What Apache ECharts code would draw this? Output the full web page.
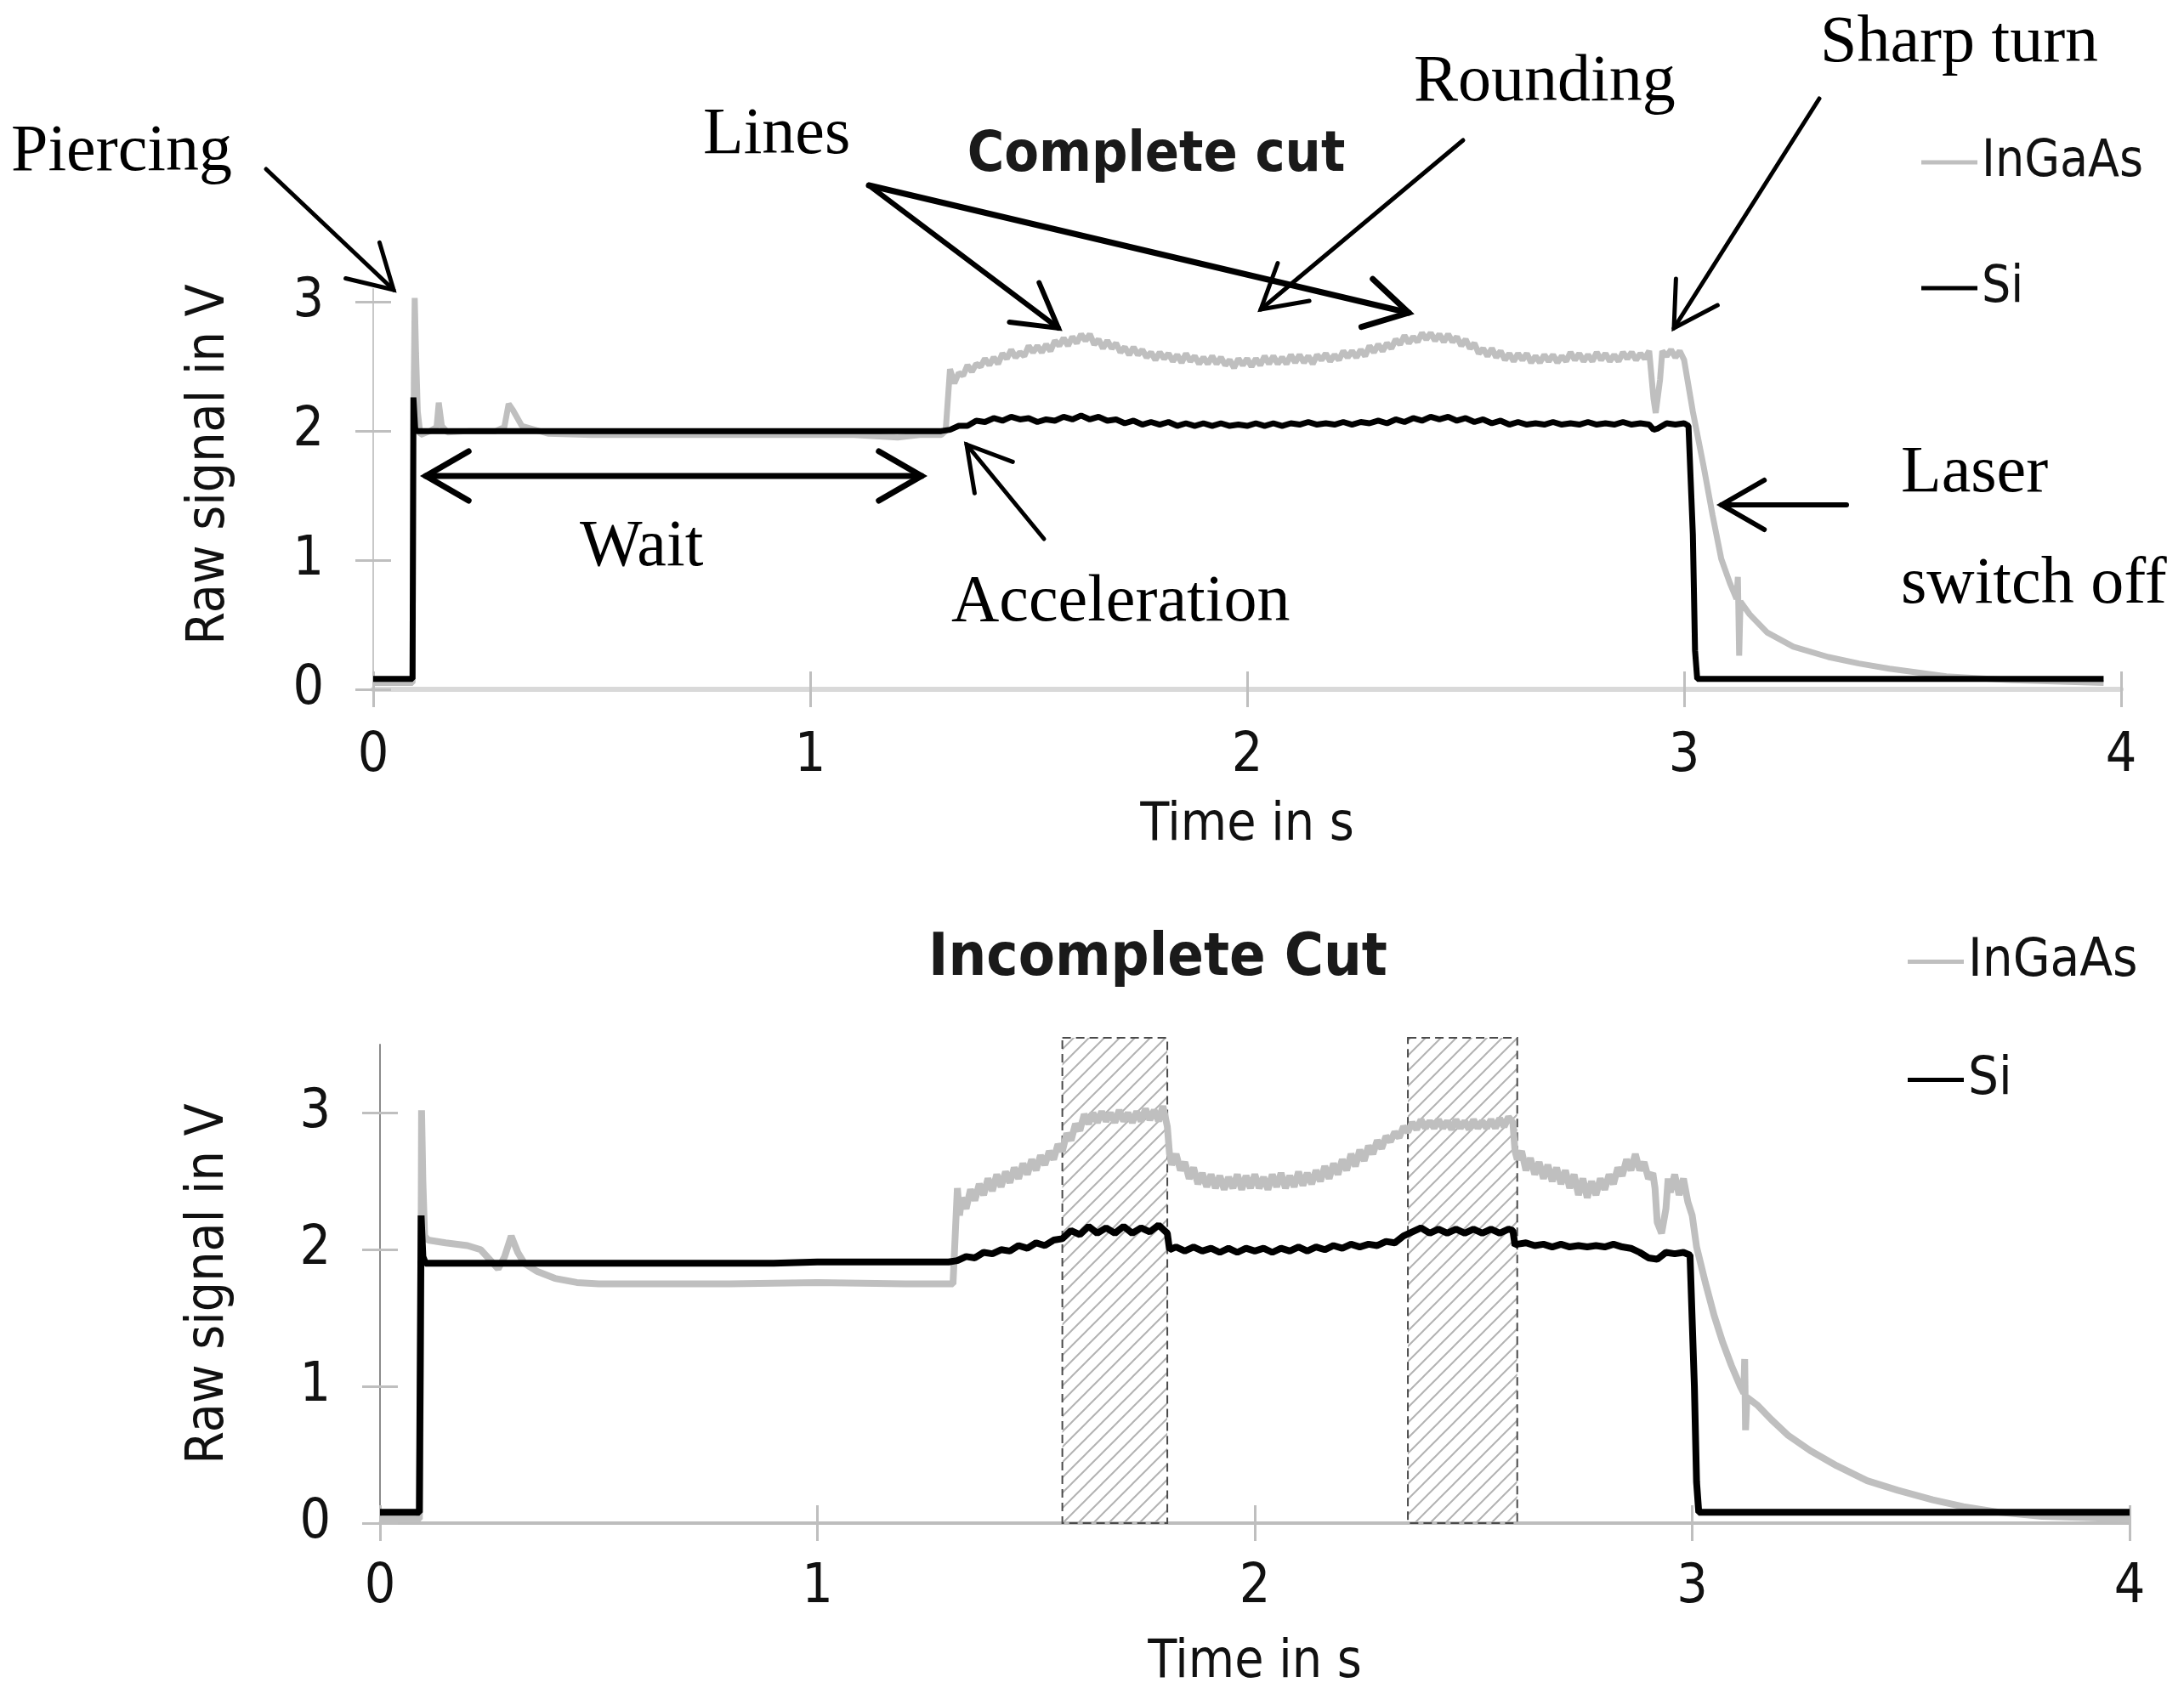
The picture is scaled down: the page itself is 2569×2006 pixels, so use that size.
<!DOCTYPE html>
<html>
<head>
<meta charset="utf-8">
<script src="https://cdn.jsdelivr.net/npm/echarts@6/dist/echarts.min.js"></script>
<style>html,body{margin:0;padding:0;background:#fff}#c{width:2569px;height:2006px}</style>
</head>
<body>
<div id="c"></div>
<script>
// ---------------- DATA ----------------
const xTicks = [0, 1, 2, 3, 4];
const yTicks = [0, 1, 2, 3];
const seriesNames = ['InGaAs', 'Si'];
const titles = ['Complete cut', 'Incomplete Cut'];

// Complete cut – InGaAs (time s, signal V)
const topInGaAs = [
[0,0.05],[0.09,0.05],[0.093,2.4],[0.095,3.03],[0.098,2.6],[0.102,2.15],[0.108,1.97],[0.13,2.0],[0.145,2.03],[0.15,2.22],[0.157,2.04],[0.17,1.99],[0.22,2.0],[0.28,2.0],[0.3,2.03],[0.31,2.21],[0.32,2.16],[0.34,2.04],[0.37,2.01],[0.40,1.98],[0.5,1.97],[0.7,1.97],[0.9,1.97],[1.1,1.97],[1.2,1.95],[1.25,1.97],[1.30,1.97],[1.31,2.00],
[1.32,2.48],[1.33,2.37],[1.34,2.45],[1.35,2.43],[1.36,2.51],[1.37,2.46],[1.38,2.52],[1.39,2.50],
[1.40,2.56],[1.41,2.51],[1.42,2.57],[1.43,2.52],[1.44,2.60],[1.45,2.56],[1.46,2.63],[1.47,2.57],[1.48,2.61],[1.49,2.58],
[1.50,2.66],[1.51,2.61],[1.52,2.66],[1.53,2.61],[1.54,2.67],[1.55,2.62],[1.56,2.70],[1.57,2.66],[1.58,2.72],[1.59,2.66],
[1.60,2.73],[1.61,2.68],[1.62,2.75],[1.63,2.70],[1.64,2.75],[1.65,2.67],[1.66,2.71],[1.67,2.64],[1.68,2.70],[1.69,2.64],
[1.70,2.68],[1.71,2.61],[1.72,2.65],[1.73,2.59],[1.74,2.65],[1.75,2.59],[1.76,2.63],[1.77,2.57],[1.78,2.61],[1.79,2.55],
[1.80,2.61],[1.81,2.56],[1.82,2.60],[1.83,2.54],[1.84,2.59],[1.85,2.53],[1.86,2.60],[1.87,2.54],[1.88,2.58],[1.89,2.52],
[1.90,2.57],[1.91,2.52],[1.92,2.58],[1.93,2.52],[1.94,2.57],[1.95,2.51],[1.96,2.55],[1.97,2.49],[1.98,2.56],[1.99,2.51],
[2.00,2.56],[2.01,2.50],[2.02,2.56],[2.03,2.51],[2.04,2.58],[2.05,2.52],[2.06,2.58],[2.07,2.52],[2.08,2.57],[2.09,2.52],
[2.10,2.59],[2.11,2.53],[2.12,2.59],[2.13,2.53],[2.14,2.58],[2.15,2.52],[2.16,2.59],[2.17,2.55],[2.18,2.60],[2.19,2.54],
[2.20,2.59],[2.21,2.55],[2.22,2.62],[2.23,2.57],[2.24,2.62],[2.25,2.57],[2.26,2.63],[2.27,2.58],[2.28,2.66],[2.29,2.61],
[2.30,2.67],[2.31,2.62],[2.32,2.68],[2.33,2.64],[2.34,2.71],[2.35,2.67],[2.36,2.74],[2.37,2.68],[2.38,2.73],[2.39,2.69],
[2.40,2.76],[2.41,2.71],[2.42,2.76],[2.43,2.70],[2.44,2.75],[2.45,2.69],[2.46,2.75],[2.47,2.69],[2.48,2.73],[2.49,2.66],
[2.50,2.71],[2.51,2.64],[2.52,2.68],[2.53,2.60],[2.54,2.64],[2.55,2.58],[2.56,2.64],[2.57,2.57],[2.58,2.62],[2.59,2.55],
[2.60,2.60],[2.61,2.54],[2.62,2.60],[2.63,2.55],[2.64,2.60],[2.65,2.53],[2.66,2.58],[2.67,2.53],[2.68,2.59],[2.69,2.54],
[2.70,2.59],[2.71,2.53],[2.72,2.58],[2.73,2.54],[2.74,2.61],[2.75,2.55],[2.76,2.60],[2.77,2.54],[2.78,2.59],[2.79,2.54],
[2.80,2.61],[2.81,2.55],[2.82,2.60],[2.83,2.54],[2.84,2.59],[2.85,2.54],[2.86,2.61],[2.87,2.56],[2.88,2.61],[2.89,2.55],
[2.90,2.60],[2.91,2.56],[2.92,2.62],[2.93,2.25],[2.935,2.14],[2.945,2.40],[2.95,2.62],[2.96,2.58],[2.97,2.63],[2.98,2.57],[2.99,2.62],[3.00,2.55],
[3.02,2.15],[3.045,1.72],[3.065,1.35],[3.085,1.01],[3.105,0.82],[3.12,0.70],[3.123,0.87],[3.126,0.26],[3.129,0.68],[3.15,0.58],[3.19,0.44],[3.25,0.33],[3.33,0.25],[3.40,0.20],[3.47,0.16],[3.60,0.10],[3.75,0.07],[3.96,0.05]
];

// Complete cut – Si
const topSi = [
[0,0.08],[0.09,0.08],[0.092,2.26],[0.096,2.02],[0.10,2.0],[0.5,2.0],[1.0,2.0],[1.30,2.0],
[1.32,2.01],[1.34,2.04],[1.36,2.04],[1.38,2.08],[1.40,2.07],[1.42,2.10],[1.44,2.08],[1.46,2.11],[1.48,2.09],
[1.50,2.10],[1.52,2.07],[1.54,2.09],[1.56,2.08],[1.58,2.11],[1.60,2.09],[1.62,2.12],[1.64,2.09],[1.66,2.11],[1.68,2.08],
[1.70,2.09],[1.72,2.06],[1.74,2.08],[1.76,2.05],[1.78,2.07],[1.80,2.05],[1.82,2.07],[1.84,2.04],[1.86,2.06],[1.88,2.04],
[1.90,2.06],[1.92,2.04],[1.94,2.06],[1.96,2.04],[1.98,2.05],[2.00,2.04],[2.02,2.06],[2.04,2.04],[2.06,2.06],[2.08,2.04],
[2.10,2.06],[2.12,2.05],[2.14,2.07],[2.16,2.05],[2.18,2.06],[2.20,2.05],[2.22,2.07],[2.24,2.05],[2.26,2.07],[2.28,2.06],
[2.30,2.08],[2.32,2.06],[2.34,2.09],[2.36,2.07],[2.38,2.10],[2.40,2.08],[2.42,2.11],[2.44,2.09],[2.46,2.11],[2.48,2.08],
[2.50,2.10],[2.52,2.07],[2.54,2.09],[2.56,2.06],[2.58,2.08],[2.60,2.05],[2.62,2.07],[2.64,2.05],[2.66,2.06],[2.68,2.05],
[2.70,2.07],[2.72,2.05],[2.74,2.06],[2.76,2.05],[2.78,2.07],[2.80,2.05],[2.82,2.06],[2.84,2.05],[2.86,2.07],[2.88,2.05],
[2.90,2.06],[2.92,2.05],[2.93,2.01],[2.94,2.02],[2.96,2.06],[2.98,2.05],[3.00,2.06],
[3.01,2.04],[3.02,1.2],[3.025,0.3],[3.03,0.08],[3.96,0.08]
];

// Incomplete cut – InGaAs
const botInGaAs = [
[0,0.03],[0.09,0.03],[0.093,1.2],[0.095,3.02],[0.098,2.5],[0.102,2.1],[0.11,2.07],[0.15,2.05],[0.2,2.03],[0.23,2.0],[0.25,1.93],[0.27,1.86],[0.285,1.95],[0.30,2.1],[0.315,1.98],[0.33,1.9],[0.36,1.84],[0.40,1.79],[0.45,1.76],[0.5,1.75],[0.8,1.75],[1.0,1.76],[1.2,1.75],[1.31,1.75],
[1.315,2.1],[1.32,2.45],[1.325,2.25],[1.33,2.38],[1.34,2.30],[1.35,2.44],[1.36,2.36],[1.37,2.48],[1.38,2.40],[1.39,2.52],[1.40,2.43],
[1.41,2.55],[1.42,2.46],[1.43,2.57],[1.44,2.49],[1.45,2.60],[1.46,2.52],[1.47,2.63],[1.48,2.55],[1.49,2.66],[1.50,2.58],
[1.51,2.69],[1.52,2.62],[1.53,2.72],[1.54,2.66],[1.55,2.77],[1.56,2.72],[1.57,2.85],[1.58,2.80],[1.59,2.92],[1.60,2.87],
[1.61,2.99],[1.62,2.92],[1.63,3.00],[1.64,2.93],[1.65,3.01],[1.66,2.94],[1.67,3.00],[1.68,2.93],[1.69,3.02],[1.70,2.94],
[1.71,3.00],[1.72,2.93],[1.73,3.01],[1.74,2.94],[1.75,3.03],[1.76,2.95],[1.77,3.02],[1.78,2.94],[1.79,3.05],[1.80,2.90],
[1.805,2.70],[1.81,2.62],[1.82,2.70],[1.83,2.58],[1.84,2.64],[1.85,2.52],[1.86,2.60],[1.87,2.48],[1.88,2.56],[1.89,2.46],[1.90,2.55],
[1.91,2.45],[1.92,2.54],[1.93,2.44],[1.94,2.53],[1.95,2.45],[1.96,2.55],[1.97,2.44],[1.98,2.54],[1.99,2.45],[2.00,2.55],
[2.01,2.45],[2.02,2.53],[2.03,2.44],[2.04,2.55],[2.05,2.46],[2.06,2.56],[2.07,2.45],[2.08,2.54],[2.09,2.46],[2.10,2.57],
[2.11,2.47],[2.12,2.56],[2.13,2.48],[2.14,2.58],[2.15,2.50],[2.16,2.61],[2.17,2.52],[2.18,2.63],[2.19,2.55],[2.20,2.66],
[2.21,2.58],[2.22,2.70],[2.23,2.61],[2.24,2.73],[2.25,2.65],[2.26,2.76],[2.27,2.70],[2.28,2.80],[2.29,2.74],[2.30,2.83],
[2.31,2.79],[2.32,2.86],[2.33,2.82],[2.34,2.90],[2.35,2.86],[2.36,2.93],[2.37,2.88],[2.38,2.95],[2.39,2.89],[2.40,2.94],
[2.41,2.89],[2.42,2.95],[2.43,2.89],[2.44,2.94],[2.45,2.88],[2.46,2.95],[2.47,2.89],[2.48,2.94],[2.49,2.88],[2.50,2.95],
[2.51,2.89],[2.52,2.94],[2.53,2.89],[2.54,2.95],[2.55,2.89],[2.56,2.96],[2.57,2.90],[2.58,2.97],[2.59,2.93],
[2.595,2.72],[2.60,2.66],[2.61,2.72],[2.62,2.58],[2.63,2.67],[2.64,2.55],[2.65,2.64],[2.66,2.52],[2.67,2.62],[2.68,2.50],[2.69,2.60],[2.70,2.48],
[2.71,2.58],[2.72,2.45],[2.73,2.55],[2.74,2.40],[2.75,2.52],[2.76,2.38],[2.77,2.50],[2.78,2.40],[2.79,2.52],[2.80,2.44],
[2.81,2.55],[2.82,2.48],[2.83,2.60],[2.84,2.54],[2.85,2.66],[2.86,2.58],[2.87,2.70],[2.88,2.58],[2.89,2.64],[2.90,2.52],
[2.91,2.56],[2.915,2.45],[2.92,2.20],[2.93,2.12],[2.94,2.30],[2.945,2.52],[2.95,2.42],[2.96,2.55],[2.97,2.40],[2.98,2.52],[2.99,2.35],[3.00,2.25],
[3.01,2.02],[3.03,1.76],[3.05,1.52],[3.07,1.32],[3.09,1.15],[3.11,1.00],[3.118,0.95],[3.12,1.20],[3.122,0.68],[3.125,0.92],[3.15,0.86],[3.18,0.76],[3.22,0.64],[3.27,0.53],[3.33,0.42],[3.40,0.31],[3.47,0.24],[3.55,0.17],[3.62,0.12],[3.70,0.08],[3.80,0.05],[3.90,0.04],[4.0,0.03]
];

// Incomplete cut – Si
const botSi = [
[0,0.08],[0.09,0.08],[0.092,1.2],[0.094,2.25],[0.098,1.95],[0.104,1.9],[0.5,1.9],[0.9,1.9],[1.0,1.91],[1.1,1.91],[1.2,1.91],[1.30,1.91],
[1.32,1.92],[1.34,1.95],[1.36,1.94],[1.38,1.98],[1.40,1.97],[1.42,2.00],[1.44,1.99],[1.46,2.03],[1.48,2.01],
[1.50,2.05],[1.52,2.03],[1.54,2.07],[1.56,2.08],[1.58,2.14],[1.60,2.11],[1.62,2.17],[1.64,2.12],[1.66,2.16],[1.68,2.12],
[1.70,2.17],[1.72,2.12],[1.74,2.16],[1.76,2.13],[1.78,2.18],[1.79,2.15],[1.80,2.12],[1.805,2.00],[1.82,2.02],[1.84,1.99],[1.86,2.02],[1.88,1.99],
[1.90,2.01],[1.92,1.98],[1.94,2.01],[1.96,1.98],[1.98,2.01],[2.00,1.99],[2.02,2.01],[2.04,1.98],[2.06,2.01],[2.08,1.99],
[2.10,2.02],[2.12,1.99],[2.14,2.02],[2.16,2.00],[2.18,2.03],[2.20,2.01],[2.22,2.04],[2.24,2.02],[2.26,2.04],[2.28,2.03],
[2.30,2.06],[2.32,2.05],[2.34,2.10],[2.36,2.13],[2.38,2.16],[2.40,2.12],[2.42,2.15],[2.44,2.12],[2.46,2.15],[2.48,2.12],
[2.50,2.15],[2.52,2.12],[2.54,2.15],[2.56,2.12],[2.58,2.15],[2.59,2.14],[2.595,2.03],[2.60,2.04],[2.62,2.05],[2.64,2.03],[2.66,2.04],[2.68,2.02],
[2.70,2.04],[2.72,2.02],[2.74,2.03],[2.76,2.02],[2.78,2.03],[2.80,2.02],[2.82,2.04],[2.84,2.02],[2.86,2.01],[2.88,1.98],
[2.90,1.94],[2.92,1.93],[2.94,1.98],[2.96,1.97],[2.98,1.98],[2.995,1.96],
[3.005,1.0],[3.01,0.3],[3.015,0.08],[4.0,0.08]
];

// Hatched zones (incomplete cut)
const hatchStart = [1.56, 2.35];
const hatchEnd = [1.80, 2.60];
const hatchTop = [3.55, 3.55];

// Annotations (complete cut)
const annoTexts = ['Piercing', 'Lines', 'Rounding', 'Sharp turn', 'Wait', 'Acceleration', 'Laser', 'switch off'];

// ---------------- STYLE / LAYOUT ----------------
const SANS = "'DejaVu Sans Condensed', 'Liberation Sans Narrow', 'DejaVu Sans', sans-serif";
const SERIF = "'Liberation Serif', 'Times New Roman', serif";
const GRAY = '#bfbfbf';

const chart = echarts.init(document.getElementById('c'), null, {renderer: 'canvas', width: 2569, height: 2006});

// hatch pattern
const HP = 18;
const pc = document.createElement('canvas');
pc.width = HP; pc.height = HP;
const pg = pc.getContext('2d');
pg.strokeStyle = '#b3b3b3'; pg.lineWidth = 2;
pg.beginPath();
pg.moveTo(0, HP); pg.lineTo(HP, 0);
pg.moveTo(-4, 4); pg.lineTo(4, -4);
pg.moveTo(HP - 4, HP + 4); pg.lineTo(HP + 4, HP - 4);
pg.stroke();

function mainX(grid, lineColor, lineWidth, margin, nameGap) {
  return {
    gridIndex: grid, type: 'value', min: 0, max: 4, interval: 1, position: 'bottom',
    axisLine: {show: true, onZero: false, lineStyle: {color: lineColor, width: lineWidth}},
    axisTick: {show: true, inside: false, length: 21, customValues: xTicks, lineStyle: {color: GRAY, width: 3}},
    axisLabel: {show: true, margin: margin, fontSize: 64, fontFamily: SANS, color: '#111', customValues: xTicks},
    splitLine: {show: false},
    name: 'Time in s', nameLocation: 'middle', nameGap: nameGap,
    nameTextStyle: {fontSize: 62, fontFamily: SANS, color: '#111'}
  };
}
function innerX(grid) {
  return {
    gridIndex: grid, type: 'value', min: 0, max: 4, interval: 1, position: 'bottom', offset: 0,
    axisLine: {show: false}, axisLabel: {show: false}, splitLine: {show: false},
    axisTick: {show: true, inside: true, length: 21, customValues: xTicks, lineStyle: {color: GRAY, width: 3}}
  };
}
function mainY(grid, max, lineColor, nameGap, pad) {
  return {
    gridIndex: grid, type: 'value', min: 0, max: max, position: 'left',
    axisLine: {show: true, onZero: false, lineStyle: {color: lineColor, width: 2}},
    axisTick: {show: true, inside: false, length: 21, customValues: yTicks, lineStyle: {color: GRAY, width: 3}},
    axisLabel: {show: true, margin: 58, fontSize: 64, fontFamily: SANS, color: '#111', customValues: yTicks},
    splitLine: {show: false},
    name: 'Raw signal in V', nameLocation: 'middle', nameGap: nameGap,
    nameTextStyle: {fontSize: 62, fontFamily: SANS, color: '#111', padding: pad}
  };
}
function innerY(grid, max) {
  return {
    gridIndex: grid, type: 'value', min: 0, max: max, position: 'left', offset: 0,
    axisLine: {show: false}, axisLabel: {show: false}, splitLine: {show: false},
    axisTick: {show: true, inside: true, length: 21, customValues: yTicks, lineStyle: {color: GRAY, width: 3}}
  };
}

function arrow(x1, y1, x2, y2, w, head, both) {
  const els = [];
  els.push({type: 'line', shape: {x1: x1, y1: y1, x2: x2, y2: y2}, style: {stroke: '#000', lineWidth: w, lineCap: 'round'}, z: 50});
  const mk = (tx, ty, fx, fy) => {
    const a = Math.atan2(fy - ty, fx - tx);
    const s = Math.PI / 6;
    return {type: 'polyline', shape: {points: [
      [tx + head * Math.cos(a + s), ty + head * Math.sin(a + s)], [tx, ty],
      [tx + head * Math.cos(a - s), ty + head * Math.sin(a - s)]]},
      style: {stroke: '#000', lineWidth: w, fill: null, lineJoin: 'miter', lineCap: 'round'}, z: 50};
  };
  els.push(mk(x2, y2, x1, y1));
  if (both) els.push(mk(x1, y1, x2, y2));
  return els;
}
function label(txt, x, y) {
  return {type: 'text', x: x, y: y, z: 50, style: {text: txt, font: '78px ' + SERIF, fill: '#000', align: 'left', verticalAlign: 'middle'}};
}

const graphics = [].concat(
  [label(annoTexts[0], 13, 180), label(annoTexts[1], 827, 160), label(annoTexts[2], 1663, 98),
   label(annoTexts[3], 2141, 52), label(annoTexts[4], 682, 645), label(annoTexts[5], 1119, 710),
   label(annoTexts[6], 2236, 558), label(annoTexts[7], 2236, 689)],
  arrow(313, 199, 463, 341, 5, 58),
  arrow(1022, 218, 1245, 386, 6, 58),
  arrow(1022, 218, 1657, 368, 7, 58),
  arrow(1721, 165, 1483, 364, 5, 58),
  arrow(2140, 116, 1969, 386, 5, 58),
  arrow(501, 560, 1084, 560, 7, 58, true),
  arrow(1228, 634, 1137, 523, 5, 58),
  arrow(2172, 594, 2025, 594, 6, 58)
);

const hatchData = hatchStart.map((s, i) => [s, hatchEnd[i], hatchTop[i]]);

const option = {
  backgroundColor: '#fff',
  animation: false,
  title: [
    {text: titles[0], left: 1360, top: 151, textAlign: 'center', padding: 0,
     textStyle: {fontSize: 66, fontWeight: 'bold', fontFamily: SANS, color: '#1a1a1a'}},
    {text: titles[1], left: 1362, top: 1094, textAlign: 'center', padding: 0,
     textStyle: {fontSize: 70, fontWeight: 'bold', fontFamily: SANS, color: '#1a1a1a'}}
  ],
  legend: [
    {data: seriesNames, orient: 'vertical', left: 2260, top: 161, itemWidth: 66, itemHeight: 5, itemGap: 88,
     icon: 'rect', padding: 0, selectedMode: false, textStyle: {fontSize: 60, fontFamily: SANS, color: '#111'}},
    {data: seriesNames, orient: 'vertical', left: 2244, top: 1100, itemWidth: 66, itemHeight: 5, itemGap: 76,
     icon: 'rect', padding: 0, selectedMode: false, textStyle: {fontSize: 63, fontFamily: SANS, color: '#111'}}
  ],
  grid: [
    {left: 439, right: 74, top: 340, bottom: 1195, containLabel: false},
    {left: 447, right: 64, top: 1229, bottom: 214, containLabel: false}
  ],
  xAxis: [
    mainX(0, '#d9d9d9', 6, 47, 130), innerX(0),
    mainX(1, '#bdbdbd', 4, 44, 134), innerX(1)
  ],
  yAxis: [
    mainY(0, 3.1, '#c8c8c8', 161, [0, 0, 0, 58]), innerY(0, 3.1),
    mainY(1, 3.5, '#8a8a8a', 170, [0, 0, 0, 0]), innerY(1, 3.5)
  ],
  graphic: graphics,
  series: [
    {type: 'line', name: 'InGaAs', xAxisIndex: 0, yAxisIndex: 0, data: topInGaAs, showSymbol: false, symbol: 'none',
     lineStyle: {color: GRAY, width: 7}, itemStyle: {color: GRAY}, z: 2},
    {type: 'line', name: 'Si', xAxisIndex: 0, yAxisIndex: 0, data: topSi, showSymbol: false, symbol: 'none',
     lineStyle: {color: '#000', width: 7}, itemStyle: {color: '#000'}, z: 3},
    {type: 'custom', name: 'hatch', xAxisIndex: 2, yAxisIndex: 2, data: hatchData, clip: false, z: 1,
     encode: {x: [0, 1], y: 2},
     renderItem: function (params, api) {
       const p0 = api.coord([api.value(0), api.value(2)]);
       const p1 = api.coord([api.value(1), 0]);
       return {type: 'rect', shape: {x: p0[0], y: p0[1], width: p1[0] - p0[0], height: p1[1] - p0[1]},
               style: {fill: {image: pc, repeat: 'repeat'}, stroke: '#4a4a4a', lineWidth: 2, lineDash: [10, 6]}};
     }},
    {type: 'line', name: 'InGaAs', xAxisIndex: 2, yAxisIndex: 2, data: botInGaAs, showSymbol: false, symbol: 'none',
     lineStyle: {color: GRAY, width: 8}, itemStyle: {color: GRAY}, z: 2},
    {type: 'line', name: 'Si', xAxisIndex: 2, yAxisIndex: 2, data: botSi, showSymbol: false, symbol: 'none',
     lineStyle: {color: '#000', width: 8}, itemStyle: {color: '#000'}, z: 3}
  ]
};
chart.setOption(option);
</script>
</body>
</html>
